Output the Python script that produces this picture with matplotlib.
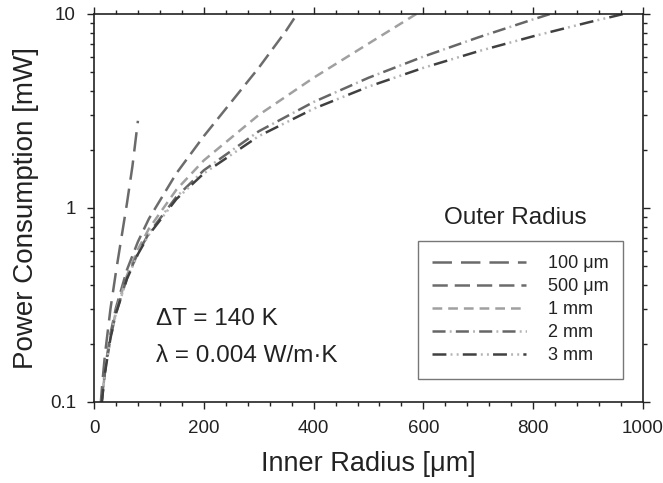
import matplotlib.pyplot as plt
from matplotlib.ticker import MultipleLocator, FixedLocator, NullFormatter
from matplotlib.legend_handler import HandlerTuple

plt.rcParams['font.family'] = ['Liberation Sans', 'DejaVu Sans']
plt.rcParams['lines.scale_dashes'] = False

# inner radius (um) and power (mW)
r_100um = [12, 15, 20, 30, 40, 50, 60, 70, 80]
p_100um = [0.096, 0.124, 0.176, 0.302, 0.469, 0.704, 1.056, 1.642, 2.815]

r_500um = [14, 20, 30, 40, 60, 80, 100, 150, 200, 250, 300, 350, 370]
p_500um = [0.101, 0.147, 0.225, 0.306, 0.480, 0.670, 0.880, 1.508, 2.346, 3.518, 5.278, 8.21, 10.01]

r_1mm = [14, 20, 30, 40, 60, 80, 100, 150, 200, 300, 400, 500, 587]
p_1mm = [0.0999, 0.1436, 0.2176, 0.2932, 0.4492, 0.612, 0.782, 1.242, 1.759, 3.016, 4.691, 7.037, 10.0]

r_2mm = [14, 20, 30, 40, 60, 80, 100, 150, 200, 300, 400, 500, 600, 700, 800, 830]
p_2mm = [0.0992, 0.1422, 0.2143, 0.2872, 0.4353, 0.5864, 0.7407, 1.141, 1.564, 2.484, 3.518, 4.691, 6.032, 7.578, 9.383, 9.984]

r_3mm = [14, 20, 30, 40, 60, 80, 100, 150, 200, 300, 400, 500, 600, 700, 800, 900, 965]
p_3mm = [0.099, 0.1417, 0.2132, 0.2853, 0.4308, 0.5784, 0.728, 1.111, 1.508, 2.346, 3.248, 4.222, 5.278, 6.425, 7.677, 9.048, 10.01]

labels = ['100 \u03bcm', '500 \u03bcm', '1 mm', '2 mm', '3 mm']

fig = plt.figure(figsize=(6.63, 4.83), dpi=100)
ax = fig.add_axes([94/663, 1-402/483, (643-94)/663, (402-14)/483])

lw = 1.8
dot_col = '#b4b4b4'
l1, = ax.plot(r_100um, p_100um, color='#6a6a6a', lw=lw, dashes=(14, 6.5))
l2, = ax.plot(r_500um, p_500um, color='#6c6c6c', lw=lw, dashes=(11, 5))
l3, = ax.plot(r_1mm, p_1mm, color='#a0a0a0', lw=lw, dashes=(7, 4.3))
# dash-dot styles: dark dashes with lighter dots in the gaps
l4a, = ax.plot(r_2mm, p_2mm, color='#666666', lw=lw, ls=(0, (9.4, 7.4)))
l4b, = ax.plot(r_2mm, p_2mm, color=dot_col, lw=lw, ls=(4.4, (1.4, 15.4)))
l5a, = ax.plot(r_3mm, p_3mm, color='#404040', lw=lw, ls=(0, (10, 11.8)))
l5b, = ax.plot(r_3mm, p_3mm, color=dot_col, lw=lw, ls=(8.8, (1.4, 3, 1.4, 16)))

ax.set_yscale('log')
ax.set_xlim(0, 1000)
ax.set_ylim(0.1, 10)
ax.xaxis.set_major_locator(MultipleLocator(200))
ax.xaxis.set_minor_locator(MultipleLocator(40))
ax.yaxis.set_major_locator(FixedLocator([0.1, 1, 10]))
ax.set_yticklabels(['0.1', '1', '10'])
ax.yaxis.set_minor_formatter(NullFormatter())

ax.tick_params(which='both', direction='out', top=True, right=True, labelsize=13.5, colors='#222222', width=1, pad=8)
ax.tick_params(which='major', length=5)
ax.tick_params(which='minor', length=3)
for s in ax.spines.values():
    s.set_linewidth(1.2)
    s.set_color('#222222')

ax.set_xlabel('Inner Radius [\u03bcm]', fontsize=19.5, color='#222222', labelpad=10)
ax.set_ylabel('Power Consumption [mW]', fontsize=20, color='#222222', labelpad=8)

fig.text(156/663, 1-319/483, '\u0394T = 140 K', fontsize=17.5, color='#222222', va='center')
fig.text(156/663, 1-356/483, '\u03bb = 0.004 W/m\u00b7K', fontsize=17.5, color='#222222', va='center')

leg = ax.legend([l1, l2, l3, (l4a, l4b), (l5a, l5b)], labels,
                handler_map={tuple: HandlerTuple(ndivide=1)},
                loc='upper left', bbox_to_anchor=(418/663, 1-241/483), bbox_transform=fig.transFigure,
                fontsize=13, handlelength=5.2, handletextpad=1.2, labelspacing=0.33,
                borderpad=0.8, borderaxespad=0, fancybox=False, frameon=True)
leg.get_frame().set_edgecolor('#555555')
leg.get_frame().set_linewidth(1)
for t in leg.get_texts():
    t.set_color('#222222')
fig.text(515/663, 1-218/483, 'Outer Radius', fontsize=17.5, color='#222222', ha='center', va='center')

fig.savefig('out.png', dpi=100)
